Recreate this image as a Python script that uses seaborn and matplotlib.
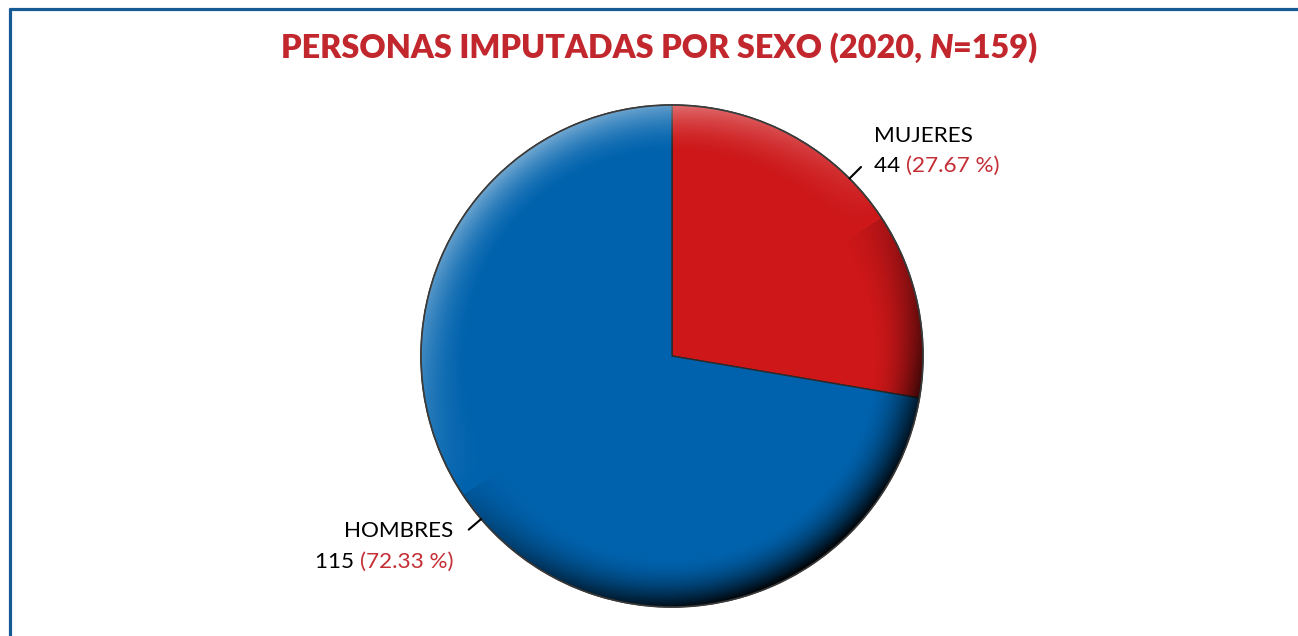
import numpy as np
import matplotlib
matplotlib.use("Agg")
import matplotlib.pyplot as plt
import seaborn as sns
from matplotlib.offsetbox import TextArea, HPacker, AnnotationBbox
from matplotlib.patches import Circle
from matplotlib.lines import Line2D

# ---- data ----
categories = ["MUJERES", "HOMBRES"]
counts = [44, 115]
percent_labels = ["(27.67 %)", "(72.33 %)"]
title_main = "PERSONAS IMPUTADAS POR SEXO (2020, "
title_n = "N"
title_tail = "=159)"

sns.set_theme(style="white")
plt.rcParams["font.family"] = ["Lato", "DejaVu Sans"]

W, H = 1298, 636
fig = plt.figure(figsize=(W / 100, H / 100), dpi=100)
fig.patch.set_facecolor("white")

def fx(px):
    return px / W

def fy(py):
    return 1 - py / H

# pie axes: center (672, 356), radius 251 px
R = 251
k = 1.25
size = 2 * R * k
cx, cy = 672, 356
ax = fig.add_axes([fx(cx - size / 2), fy(cy + size / 2), size / W, size / H])

colors = ["#CD1719", "#0062AD"]
wedges, _ = ax.pie(counts, colors=colors, startangle=90, counterclock=False,
                   radius=1.0,
                   wedgeprops=dict(edgecolor="#2a2a2a", linewidth=1.0))
ax.set_xlim(-k, k)
ax.set_ylim(-k, k)
ax.set_aspect("equal")
ax.axis("off")

# bevel shading overlay clipped to the pie
n = 600
xs = np.linspace(-1, 1, n)
X, Y = np.meshgrid(xs, xs[::-1])
r = np.sqrt(X ** 2 + Y ** 2) + 1e-9
edge = np.clip((r - 0.80) / 0.20, 0, 1) ** 1.8
lx, ly = -0.55, 0.83
d = (X / r) * lx + (Y / r) * ly
rgba = np.zeros((n, n, 4))
light = d > 0
rgba[..., :3] = np.where(light[..., None], 1.0, 0.0)
alpha = np.where(light, edge * d * 0.45, edge * (-d) * 0.85 + edge * 0.15)
rgba[..., 3] = np.clip(alpha, 0, 1)
im = ax.imshow(rgba, extent=[-1, 1, -1, 1], zorder=3, interpolation="bilinear")
ax.set_xlim(-k, k)
ax.set_ylim(-k, k)
clip = Circle((0, 0), 1.0, transform=ax.transData)
im.set_clip_path(clip)
ax.add_patch(Circle((0, 0), 1.0, fill=False, edgecolor="#3a3a3a", linewidth=1.2, zorder=4))

# leader lines
leader_angles = [45.0, -139.5]
for ang in leader_angles:
    a = np.deg2rad(ang)
    ax.plot([np.cos(a) * 1.0, np.cos(a) * 1.065], [np.sin(a) * 1.0, np.sin(a) * 1.065],
            color="black", lw=1.5, zorder=5, clip_on=False)

label_fs = 16.2
red_txt = "#C42E35"

# MUJERES label (left aligned)
fig.text(fx(874), fy(142), categories[0], ha="left", va="baseline",
         fontsize=label_fs, color="black")
t1 = fig.text(fx(874), fy(172), f"{counts[0]} ", ha="left", va="baseline",
              fontsize=label_fs, color="black")
ax.annotate(percent_labels[0], xy=(1, 0), xycoords=t1, ha="left", va="bottom",
            fontsize=label_fs, color=red_txt, annotation_clip=False)

# HOMBRES label (right aligned)
fig.text(fx(453), fy(537), categories[1], ha="right", va="baseline",
         fontsize=label_fs, color="black")
t2 = fig.text(fx(453), fy(568), percent_labels[1], ha="right", va="baseline",
              fontsize=label_fs, color=red_txt)
ax.annotate(f"{counts[1]} ", xy=(0, 0), xycoords=t2, ha="right", va="bottom",
            fontsize=label_fs, color="black", annotation_clip=False)

# title
tp = dict(fontsize=23.3, fontweight="heavy", color="#C1272D")
tpi = dict(tp, style="italic")
box = HPacker(children=[TextArea(title_main, textprops=tp),
                        TextArea(title_n, textprops=tpi),
                        TextArea(title_tail, textprops=tp)],
              pad=0, sep=0, align="baseline")
ab = AnnotationBbox(box, (fx(659), fy(48)), xycoords="figure fraction",
                    box_alignment=(0.5, 0.5), frameon=False)
fig.add_artist(ab)

# frame
frame_c = "#155A94"
fig.add_artist(Line2D([fx(9.5), fx(9.5)], [fy(8), 0], transform=fig.transFigure,
                      color=frame_c, lw=2.3, solid_capstyle="butt"))
fig.add_artist(Line2D([fx(8.5), 1], [fy(8.5), fy(8.5)], transform=fig.transFigure,
                      color=frame_c, lw=2.3, solid_capstyle="butt"))

fig.savefig("out.png", dpi=100, facecolor="white")
